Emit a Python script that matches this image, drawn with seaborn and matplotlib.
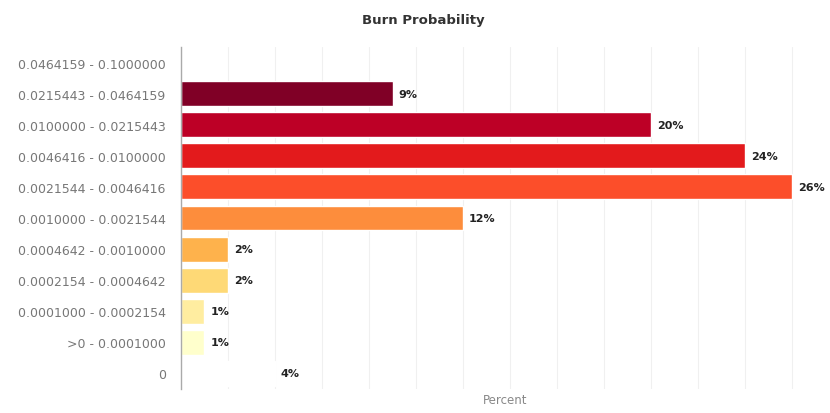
import matplotlib
matplotlib.use("Agg")
import matplotlib.pyplot as plt
import seaborn as sns
import pandas as pd

# Data
categories = [
    "0.0464159 - 0.1000000",
    "0.0215443 - 0.0464159",
    "0.0100000 - 0.0215443",
    "0.0046416 - 0.0100000",
    "0.0021544 - 0.0046416",
    "0.0010000 - 0.0021544",
    "0.0004642 - 0.0010000",
    "0.0002154 - 0.0004642",
    "0.0001000 - 0.0002154",
    ">0 - 0.0001000",
    "0",
]
percents = [0, 9, 20, 24, 26, 12, 2, 2, 1, 1, 4]
colors = ["#800026", "#800026", "#bd0026", "#e31a1c", "#fc4e2a", "#fd8d3c",
          "#feb24c", "#fed976", "#ffeda0", "#ffffcc", "#ffffff"]

df = pd.DataFrame({"range": categories, "percent": percents})

sns.set_style("white")
fig = plt.figure(figsize=(8.3, 4.14), dpi=100)
ax = fig.add_axes([0.218, 0.058, 0.782, 0.826])

sns.barplot(data=df, x="percent", y="range", hue="range", palette=colors,
            legend=False, orient="h", width=0.8, ax=ax, saturation=1)

ax.set_xlim(0, 27.6)
ax.set_xticks(range(0, 28, 2))
ax.xaxis.grid(True, color="#f0f0f0", linewidth=0.8)
ax.set_axisbelow(True)
ax.tick_params(axis="x", length=0, labelbottom=False)
ax.tick_params(axis="y", length=0, labelsize=9, labelcolor="#777777", pad=11)

for s in ["top", "right", "bottom"]:
    ax.spines[s].set_visible(False)
ax.spines["left"].set_color("#aaaaaa")
ax.spines["left"].set_linewidth(1)

ax.set_ylabel("")
ax.set_xlabel("Percent", fontsize=8.5, color="#888888", labelpad=3)

for i, v in enumerate(percents):
    if v > 0:
        ax.text(v + 0.25, i, f"{v}%", va="center", ha="left",
                fontsize=8, fontweight="bold", color="#222222")

fig.text(0.51, 0.95, "Burn Probability", ha="center", va="center",
         fontsize=9.5, fontweight="bold", color="#333333")

fig.savefig("out.png", dpi=100)
